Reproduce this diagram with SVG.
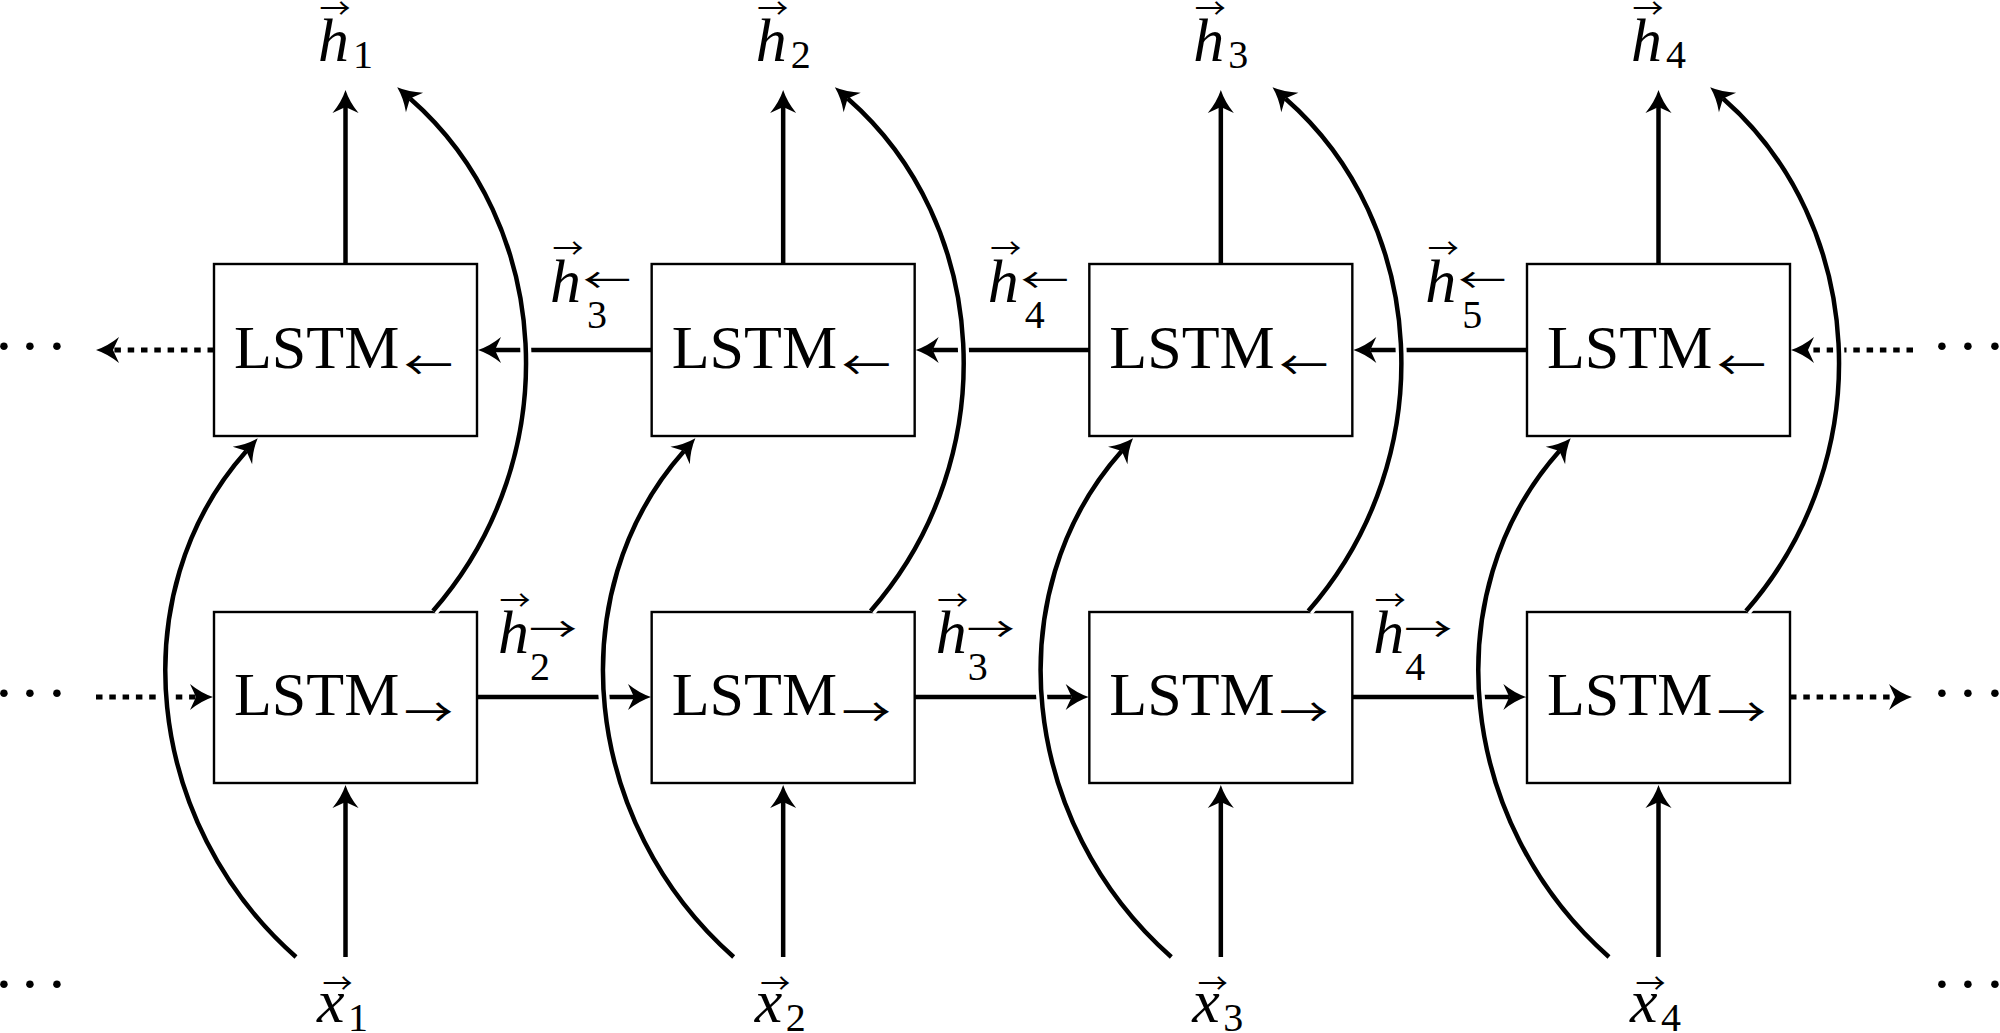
<svg xmlns="http://www.w3.org/2000/svg" width="2000" height="1033" viewBox="0 0 2000 1033" font-family="Liberation Serif, DejaVu Serif, serif">
<style>
.box{fill:#fff;stroke:#000;stroke-width:2.4}
.lstm{font-family:'Liberation Serif','DejaVu Serif',serif;font-size:62px;fill:#000}
.lab{font-family:'Liberation Serif','DejaVu Serif',serif;font-size:62px;font-style:italic;fill:#000}
.sub{font-family:'Liberation Serif','DejaVu Serif',serif;font-size:40px;font-style:normal;fill:#000}
.arr{font-family:'Noto Sans CJK JP','DejaVu Sans',sans-serif;fill:#000}
.acc{font-size:28px}
.sup{font-size:34px}
.ls{font-size:40px}
.dots{font-family:'Liberation Serif','DejaVu Serif',serif;font-size:64px;fill:#000}
.ln{fill:none;stroke:#000;stroke-width:4.5;marker-end:url(#ah)}
.dt{stroke-dasharray:6.5 6.8;stroke-width:5}
.halo{fill:none;stroke:#fff;stroke-width:11}
.cv{fill:none;stroke:#000;stroke-width:4.5;marker-end:url(#ah)}
</style>
<defs>
<marker id="ah" markerUnits="userSpaceOnUse" orient="auto" viewBox="-10 -15 30 30" markerWidth="30" markerHeight="30" refX="0" refY="0" overflow="visible">
<path d="M17,0 Q5,-4 -6,-13 L0,0 L-6,13 Q5,4 17,0 Z" fill="#000"/>
</marker>
</defs>
<rect width="2000" height="1033" fill="#fff"/>

<!-- LSTM nodes -->
<g id="bwd1"><rect class="box" x="214" y="264" width="263" height="172"/><text class="lstm" font-family="Liberation Serif, serif" x="234" y="368">LSTM</text><text class="arr ls" x="404" y="380" textLength="49" lengthAdjust="spacingAndGlyphs">←</text></g>
<g id="bwd2"><rect class="box" x="651.67" y="264" width="263" height="172"/><text class="lstm" font-family="Liberation Serif, serif" x="671.67" y="368">LSTM</text><text class="arr ls" x="841.67" y="380" textLength="49" lengthAdjust="spacingAndGlyphs">←</text></g>
<g id="bwd3"><rect class="box" x="1089.33" y="264" width="263" height="172"/><text class="lstm" font-family="Liberation Serif, serif" x="1109.33" y="368">LSTM</text><text class="arr ls" x="1279.33" y="380" textLength="49" lengthAdjust="spacingAndGlyphs">←</text></g>
<g id="bwd4"><rect class="box" x="1527" y="264" width="263" height="172"/><text class="lstm" font-family="Liberation Serif, serif" x="1547" y="368">LSTM</text><text class="arr ls" x="1717" y="380" textLength="49" lengthAdjust="spacingAndGlyphs">←</text></g>

<g id="fwd1"><rect class="box" x="214" y="612" width="263" height="171"/><text class="lstm" font-family="Liberation Serif, serif" x="234" y="715">LSTM</text><text class="arr ls" x="404" y="727" textLength="49" lengthAdjust="spacingAndGlyphs">→</text></g>
<g id="fwd2"><rect class="box" x="651.67" y="612" width="263" height="171"/><text class="lstm" font-family="Liberation Serif, serif" x="671.67" y="715">LSTM</text><text class="arr ls" x="841.67" y="727" textLength="49" lengthAdjust="spacingAndGlyphs">→</text></g>
<g id="fwd3"><rect class="box" x="1089.33" y="612" width="263" height="171"/><text class="lstm" font-family="Liberation Serif, serif" x="1109.33" y="715">LSTM</text><text class="arr ls" x="1279.33" y="727" textLength="49" lengthAdjust="spacingAndGlyphs">→</text></g>
<g id="fwd4"><rect class="box" x="1527" y="612" width="263" height="171"/><text class="lstm" font-family="Liberation Serif, serif" x="1547" y="715">LSTM</text><text class="arr ls" x="1717" y="727" textLength="49" lengthAdjust="spacingAndGlyphs">→</text></g>

<!-- output labels -->
<g id="h1"><text class="lab" x="318" y="61">h<tspan class="sub" x="353" y="68">1</tspan></text><text class="arr acc" x="319.5" y="18.6" textLength="31" lengthAdjust="spacingAndGlyphs">→</text></g>
<g id="h2"><text class="lab" x="755.67" y="61">h<tspan class="sub" x="790.67" y="68">2</tspan></text><text class="arr acc" x="757.17" y="18.6" textLength="31" lengthAdjust="spacingAndGlyphs">→</text></g>
<g id="h3"><text class="lab" x="1193.33" y="61">h<tspan class="sub" x="1228.33" y="68">3</tspan></text><text class="arr acc" x="1194.83" y="18.6" textLength="31" lengthAdjust="spacingAndGlyphs">→</text></g>
<g id="h4"><text class="lab" x="1631" y="61">h<tspan class="sub" x="1666" y="68">4</tspan></text><text class="arr acc" x="1632.5" y="18.6" textLength="31" lengthAdjust="spacingAndGlyphs">→</text></g>

<!-- input labels -->
<g id="x1"><text class="lab" x="317" y="1022">x<tspan class="sub" x="348" y="1031">1</tspan></text><text class="arr acc" x="322.5" y="993.6" textLength="30" lengthAdjust="spacingAndGlyphs">→</text></g>
<g id="x2"><text class="lab" x="754.67" y="1022">x<tspan class="sub" x="785.67" y="1031">2</tspan></text><text class="arr acc" x="760.17" y="993.6" textLength="30" lengthAdjust="spacingAndGlyphs">→</text></g>
<g id="x3"><text class="lab" x="1192.33" y="1022">x<tspan class="sub" x="1223.33" y="1031">3</tspan></text><text class="arr acc" x="1197.83" y="993.6" textLength="30" lengthAdjust="spacingAndGlyphs">→</text></g>
<g id="x4"><text class="lab" x="1630" y="1022">x<tspan class="sub" x="1661" y="1031">4</tspan></text><text class="arr acc" x="1635.5" y="993.6" textLength="30" lengthAdjust="spacingAndGlyphs">→</text></g>

<!-- ellipses -->
<g id="dots">
<text class="dots" x="4 30 57" y="367" text-anchor="middle">···</text>
<text class="dots" x="4 30 57" y="714" text-anchor="middle">···</text>
<text class="dots" x="4 30 57" y="1005" text-anchor="middle">···</text>
<text class="dots" x="1942 1968 1995" y="367" text-anchor="middle">···</text>
<text class="dots" x="1942 1968 1995" y="714" text-anchor="middle">···</text>
<text class="dots" x="1942 1968 1995" y="1005" text-anchor="middle">···</text>
</g>

<!-- connectors -->
<g id="connectors">
<line class="ln" x1="345.5" y1="264" x2="345.5" y2="107"/>
<line class="ln" x1="783.17" y1="264" x2="783.17" y2="107"/>
<line class="ln" x1="1220.83" y1="264" x2="1220.83" y2="107"/>
<line class="ln" x1="1658.5" y1="264" x2="1658.5" y2="107"/>
<line class="ln" x1="345.5" y1="957" x2="345.5" y2="802"/>
<line class="ln" x1="783.17" y1="957" x2="783.17" y2="802"/>
<line class="ln" x1="1220.83" y1="957" x2="1220.83" y2="802"/>
<line class="ln" x1="1658.5" y1="957" x2="1658.5" y2="802"/>
<line class="ln" x1="651.67" y1="350" x2="495" y2="350"/>
<line class="ln" x1="1089.33" y1="350" x2="932.67" y2="350"/>
<line class="ln" x1="1527" y1="350" x2="1370.33" y2="350"/>
<line class="ln" x1="477" y1="697" x2="634" y2="697"/>
<line class="ln" x1="914.67" y1="697" x2="1071.67" y2="697"/>
<line class="ln" x1="1352.33" y1="697" x2="1509.33" y2="697"/>
<line class="ln dt" x1="214" y1="350" x2="113" y2="350"/>
<line class="ln dt" x1="1913" y1="350" x2="1808" y2="350"/>
<line class="ln dt" x1="96" y1="697" x2="196" y2="697"/>
<line class="ln dt" x1="1790" y1="697" x2="1895" y2="697"/>
<path class="halo" d="M296,957 C145,824 120,593 246.4,451"/>
<path class="halo" d="M733.67,957 C582.67,824 557.67,593 684.07,451"/>
<path class="halo" d="M1171.33,957 C1020.33,824 995.33,593 1121.73,451"/>
<path class="halo" d="M1609,957 C1458,824 1433,593 1559.4,451"/>
<path class="halo" d="M433,611 C568,456.6 552.4,223 410,98.5"/>
<path class="halo" d="M870.67,611 C1005.67,456.6 990.07,223 847.67,98.5"/>
<path class="halo" d="M1308.33,611 C1443.33,456.6 1427.73,223 1285.33,98.5"/>
<path class="halo" d="M1746,611 C1881,456.6 1865.4,223 1723,98.5"/>
<path class="cv" d="M296,957 C145,824 120,593 246.4,451"/>
<path class="cv" d="M733.67,957 C582.67,824 557.67,593 684.07,451"/>
<path class="cv" d="M1171.33,957 C1020.33,824 995.33,593 1121.73,451"/>
<path class="cv" d="M1609,957 C1458,824 1433,593 1559.4,451"/>
<path class="cv" d="M433,611 C568,456.6 552.4,223 410,98.5"/>
<path class="cv" d="M870.67,611 C1005.67,456.6 990.07,223 847.67,98.5"/>
<path class="cv" d="M1308.33,611 C1443.33,456.6 1427.73,223 1285.33,98.5"/>
<path class="cv" d="M1746,611 C1881,456.6 1865.4,223 1723,98.5"/>
</g>

<!-- recurrent state labels -->
<g id="hb3"><text class="lab" x="550" y="302">h<tspan class="sub" x="587" y="328">3</tspan></text><text class="arr acc" x="552.5" y="258.6" textLength="31" lengthAdjust="spacingAndGlyphs">→</text><text class="arr sup" x="583" y="293" textLength="48" lengthAdjust="spacingAndGlyphs">←</text></g>
<g id="hb4"><text class="lab" x="987.67" y="302">h<tspan class="sub" x="1024.67" y="328">4</tspan></text><text class="arr acc" x="990.17" y="258.6" textLength="31" lengthAdjust="spacingAndGlyphs">→</text><text class="arr sup" x="1020.67" y="293" textLength="48" lengthAdjust="spacingAndGlyphs">←</text></g>
<g id="hb5"><text class="lab" x="1425.33" y="302">h<tspan class="sub" x="1462.33" y="328">5</tspan></text><text class="arr acc" x="1427.83" y="258.6" textLength="31" lengthAdjust="spacingAndGlyphs">→</text><text class="arr sup" x="1458.33" y="293" textLength="48" lengthAdjust="spacingAndGlyphs">←</text></g>
<g id="hf2"><text class="lab" x="498" y="653">h<tspan class="sub" x="530" y="680">2</tspan></text><text class="arr acc" x="499.5" y="610.6" textLength="31" lengthAdjust="spacingAndGlyphs">→</text><text class="arr sup" x="529" y="642" textLength="48" lengthAdjust="spacingAndGlyphs">→</text></g>
<g id="hf3"><text class="lab" x="935.67" y="653">h<tspan class="sub" x="967.67" y="680">3</tspan></text><text class="arr acc" x="937.17" y="610.6" textLength="31" lengthAdjust="spacingAndGlyphs">→</text><text class="arr sup" x="966.67" y="642" textLength="48" lengthAdjust="spacingAndGlyphs">→</text></g>
<g id="hf4"><text class="lab" x="1373.33" y="653">h<tspan class="sub" x="1405.33" y="680">4</tspan></text><text class="arr acc" x="1374.83" y="610.6" textLength="31" lengthAdjust="spacingAndGlyphs">→</text><text class="arr sup" x="1404.33" y="642" textLength="48" lengthAdjust="spacingAndGlyphs">→</text></g>
</svg>
